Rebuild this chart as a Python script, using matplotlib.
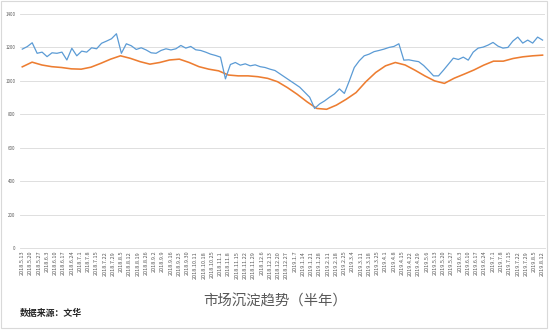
import numpy as np
import matplotlib.pyplot as plt
from matplotlib import patches

plt.rcParams['font.family'] = ['Noto Sans CJK SC', 'DejaVu Sans']

# x axis dates (category axis)
dates = [
    '2018.5.13', '2018.5.20', '2018.5.27', '2018.6.3', '2018.6.10', '2018.6.17', '2018.6.24',
    '2018.7.1', '2018.7.8', '2018.7.15', '2018.7.22', '2018.7.29', '2018.8.5', '2018.8.12',
    '2018.8.19', '2018.8.26', '2018.9.2', '2018.9.9', '2018.9.16', '2018.9.23', '2018.9.30',
    '2018.10.11', '2018.10.18', '2018.10.25', '2018.11.1', '2018.11.8', '2018.11.15',
    '2018.11.22', '2018.11.29', '2018.12.6', '2018.12.13', '2018.12.20', '2018.12.27',
    '2019.1.7', '2019.1.14', '2019.1.21', '2019.1.28', '2019.2.11', '2019.2.18', '2019.2.25',
    '2019.3.4', '2019.3.11', '2019.3.18', '2019.3.25', '2019.4.1', '2019.4.8', '2019.4.15',
    '2019.4.22', '2019.4.29', '2019.5.6', '2019.5.13', '2019.5.20', '2019.5.27', '2019.6.3',
    '2019.6.10', '2019.6.17', '2019.6.24', '2019.7.1', '2019.7.8', '2019.7.15', '2019.7.22',
    '2019.7.29', '2019.8.5', '2019.8.12',
]

# 沉淀资金
chendian = [
    1190, 1205, 1228, 1165, 1172, 1145, 1168, 1165, 1172, 1125,
    1195, 1150, 1178, 1172, 1198, 1192, 1225, 1238, 1252, 1282,
    1165, 1222, 1210, 1188, 1198, 1185, 1168, 1165, 1182, 1192,
    1185, 1192, 1212, 1196, 1206, 1186, 1182, 1172, 1160, 1152,
    1142, 1012, 1098, 1110, 1094, 1102, 1090, 1096, 1085, 1080,
    1070, 1062, 1042, 1022, 1002, 982, 962, 932, 902, 835,
    862, 880, 902, 922, 952, 925, 1000, 1080, 1120, 1150,
    1160, 1175, 1182, 1190, 1200, 1206, 1222, 1124, 1126, 1120,
    1115, 1092, 1062, 1030, 1030, 1064, 1100, 1136, 1128, 1142,
    1124, 1172, 1196, 1202, 1214, 1230, 1208, 1196, 1200, 1238,
    1262, 1226, 1244, 1226, 1262, 1244,
]

# 均线
junxian = [
    1084, 1112, 1095, 1085, 1080, 1072, 1070, 1082, 1105, 1130,
    1150, 1135, 1115, 1100, 1110, 1125, 1130, 1110, 1085, 1070,
    1060, 1035, 1030, 1030, 1025, 1015, 995, 960, 920, 875,
    835, 830, 855, 890, 930, 995, 1050, 1090, 1110, 1095,
    1064, 1030, 1000, 985, 1016, 1040, 1065, 1094, 1118, 1118,
    1134, 1144, 1150, 1154,
]

fig = plt.figure(figsize=(5.5, 3.3), dpi=100)
ax = fig.add_axes([0.036, 0.2485, 0.955, 0.709])

n = len(dates) - 1
x1 = np.linspace(0, n, len(chendian))
x2 = np.linspace(0, n, len(junxian))

ax.plot(x1, chendian, color='#5B9BD5', lw=0.9, zorder=3)
ax.plot(x2, junxian, color='#ED7D31', lw=1.15, zorder=2)

ax.set_ylim(0, 1400)
ax.set_xlim(-0.3, n + 0.3)
ax.set_yticks(range(0, 1401, 200))
ax.set_xticks(range(len(dates)))
ax.set_xticklabels(dates, rotation=90, fontsize=4.0, color='#595959')
ax.tick_params(axis='y', labelsize=3.2, labelcolor='#595959', length=0, pad=3)
ax.tick_params(axis='x', length=0, pad=2)
ax.grid(axis='y', color='#d9d9d9', lw=0.6)
ax.set_axisbelow(True)
for s in ['top', 'right', 'left']:
    ax.spines[s].set_visible(False)
ax.spines['bottom'].set_color('#d9d9d9')
ax.spines['bottom'].set_linewidth(0.6)

fig.text(0.5, 0.086, '市场沉淀趋势（半年）', ha='center', va='center',
         fontsize=10.4, color='#595959')
fig.text(0.036, 0.0515, '数据来源：文华', ha='left', va='center',
         fontsize=6.4, fontweight='bold', color='#262626')

fig.patches.append(patches.Rectangle((0.002, 0.006), 0.993, 0.99, transform=fig.transFigure,
                                     fill=False, edgecolor='#d9d9d9', lw=0.8))

fig.savefig('out.png', dpi=100)
